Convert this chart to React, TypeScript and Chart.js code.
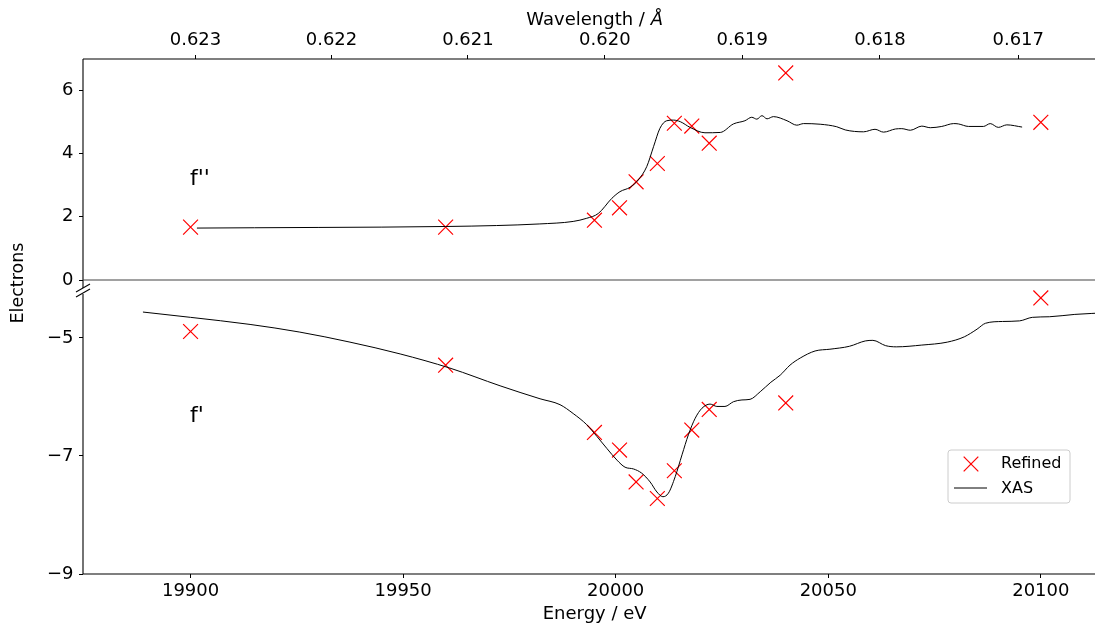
import React, { useEffect, useRef } from 'react';
import { Chart, registerables } from 'chart.js';

Chart.register(...registerables);

// ---------- data ----------
const HC = 12398.42; // eV·Å

const energyTicks = [19900, 19950, 20000, 20050, 20100];
const wavelengthTicks = [0.623, 0.622, 0.621, 0.62, 0.619, 0.618, 0.617];
const fppTicks = [0, 2, 4, 6];
const fpTicks = [-9, -7, -5];

const refinedEnergy = [19900, 19960, 19995, 20000.9, 20004.8, 20009.8, 20013.8, 20017.9, 20022, 20040, 20100];
const refinedFpp = [1.67, 1.67, 1.89, 2.28, 3.1, 3.68, 4.95, 4.86, 4.32, 6.54, 4.98];
const refinedFp = [-4.89, -5.46, -6.6, -6.9, -7.44, -7.72, -7.25, -6.56, -6.21, -6.1, -4.32];

const xasFppEnergy = [
  19901.5, 19915, 19930, 19945, 19960, 19972, 19982, 19990, 19993.2, 19995.9,
  19999.1, 20001, 20003.4, 20005.3, 20007.3, 20008.9, 20010.4, 20012, 20013.6, 20015.2,
  20017.5, 20021, 20024.6, 20027.7, 20030.4, 20032, 20033.2, 20034.4, 20035.6, 20037.1,
  20040.3, 20042.6, 20044.2, 20048.1, 20052, 20054, 20058.3, 20061, 20063, 20065.8,
  20067.3, 20069.3, 20072, 20074, 20076.7, 20079.5, 20080.6, 20083, 20086.5, 20088.1,
  20090, 20092, 20095.6,
];
const xasFpp = [
  1.64, 1.65, 1.66, 1.67, 1.69, 1.72, 1.77, 1.85, 1.95, 2.1,
  2.58, 2.79, 2.93, 3.16, 3.58, 4.21, 4.79, 5.03, 5.05, 5.0,
  4.82, 4.65, 4.66, 4.93, 5.03, 5.14, 5.08, 5.19, 5.09, 5.16,
  5.03, 4.89, 4.94, 4.92, 4.84, 4.74, 4.68, 4.76, 4.67, 4.77,
  4.78, 4.73, 4.86, 4.81, 4.85, 4.94, 4.93, 4.85, 4.85, 4.94,
  4.82, 4.9, 4.83,
];

const xasFpEnergy = [
  19888.8, 19900, 19914, 19925.7, 19937.5, 19949.3, 19961, 19972.8, 19982.2, 19986.9,
  19990, 19993.2, 19995.6, 19997.9, 20000.3, 20002.2, 20004.2, 20006.1, 20008.1, 20009.7,
  20011.1, 20012.4, 20014, 20015.6, 20017.1, 20018.7, 20020.3, 20022.2, 20023.8, 20025.7,
  20027.7, 20029.7, 20031.6, 20034, 20036.5, 20038.7, 20041, 20043.4, 20046.9, 20050.4,
  20055, 20058.7, 20060.5, 20063.5, 20066, 20072, 20078, 20082, 20085, 20087,
  20091, 20095, 20098, 20102, 20108, 20116,
];
const xasFp = [
  -4.56, -4.65, -4.77, -4.9, -5.07, -5.27, -5.51, -5.81, -6.03, -6.13,
  -6.28, -6.47, -6.67, -6.87, -7.07, -7.19, -7.22, -7.29, -7.44, -7.61,
  -7.69, -7.63, -7.35, -6.98, -6.64, -6.36, -6.19, -6.12, -6.16, -6.16,
  -6.08, -6.05, -6.04, -5.91, -5.75, -5.63, -5.46, -5.34, -5.22, -5.19,
  -5.14, -5.05, -5.04, -5.13, -5.15, -5.12, -5.07, -4.98, -4.85, -4.75,
  -4.72, -4.71, -4.65, -4.64, -4.6, -4.57,
];

// ---------- layout constants ----------
const W = 1118;
const H = 623;
const FONT = "'DejaVu Sans', sans-serif";

const pts = (xs: number[], ys: number[]) => xs.map((x, i) => ({ x, y: ys[i] }));
const fmtNum = (v: number) => (v < 0 ? '\u2212' + Math.abs(v) : String(v));

const overlay = {
  id: 'overlay',
  afterDraw(chart: any) {
    const ctx = chart.ctx as CanvasRenderingContext2D;
    const a = chart.chartArea;
    const yTop = chart.scales.yTop;
    const zeroY = yTop.getPixelForValue(0);
    ctx.save();
    const seg = (x1: number, y1: number, x2: number, y2: number) => {
      ctx.beginPath();
      ctx.moveTo(x1, y1);
      ctx.lineTo(x2, y2);
      ctx.stroke();
    };
    ctx.strokeStyle = '#000';
    ctx.lineWidth = 1.1;
    // spines
    seg(a.left, a.top, a.right, a.top);
    seg(a.left, a.bottom, a.right, a.bottom);
    seg(a.left, a.top, a.left, zeroY + 8);
    seg(a.left, zeroY + 14, a.left, a.bottom);
    // zero line
    ctx.strokeStyle = '#444';
    seg(a.left, zeroY, a.right, zeroY);
    // break marks
    ctx.strokeStyle = '#000';
    seg(a.left - 7, zeroY + 12, a.left + 7, zeroY + 4);
    seg(a.left - 7, zeroY + 17, a.left + 7, zeroY + 9);

    // panel labels
    ctx.fillStyle = '#000';
    ctx.font = `22px ${FONT}`;
    ctx.textAlign = 'left';
    ctx.textBaseline = 'alphabetic';
    ctx.fillText("f''", 190, 185);
    ctx.fillText("f'", 190, 422);

    // y label
    ctx.save();
    ctx.translate(18, 283);
    ctx.rotate(-Math.PI / 2);
    ctx.font = `17.5px ${FONT}`;
    ctx.textAlign = 'center';
    ctx.textBaseline = 'middle';
    ctx.fillText('Electrons', 0, 0);
    ctx.restore();

    // top axis title with italic Å
    ctx.font = `18px ${FONT}`;
    ctx.textBaseline = 'middle';
    ctx.textAlign = 'left';
    const t1 = 'Wavelength / ';
    const w1 = ctx.measureText(t1).width;
    ctx.font = `italic 18px ${FONT}`;
    const w2 = ctx.measureText('\u00C5').width;
    const cx = (a.left + a.right) / 2;
    const sx = cx - (w1 + w2) / 2;
    ctx.font = `18px ${FONT}`;
    ctx.fillText(t1, sx, 20);
    ctx.font = `italic 18px ${FONT}`;
    ctx.fillText('\u00C5', sx + w1, 20);

    // legend
    const lx = 948, ly = 450, lw = 122, lh = 53;
    ctx.beginPath();
    ctx.roundRect(lx, ly, lw, lh, 3);
    ctx.fillStyle = 'rgba(255,255,255,0.8)';
    ctx.fill();
    ctx.strokeStyle = '#cccccc';
    ctx.lineWidth = 1;
    ctx.stroke();
    ctx.strokeStyle = '#ff0000';
    ctx.lineWidth = 1.2;
    const cxm = 971, cym = 464, r = 7.3;
    seg(cxm - r, cym - r, cxm + r, cym + r);
    seg(cxm - r, cym + r, cxm + r, cym - r);
    ctx.strokeStyle = '#000';
    ctx.lineWidth = 1;
    seg(954, 488, 987, 488);
    ctx.fillStyle = '#000';
    ctx.font = `16px ${FONT}`;
    ctx.textBaseline = 'middle';
    ctx.fillText('Refined', 1001, 464);
    ctx.fillText('XAS', 1001, 489);
    ctx.restore();
  },
};

export default function App() {
  const ref = useRef<HTMLCanvasElement>(null);
  useEffect(() => {
    if (!ref.current) return;
    const tickFont = { family: FONT, size: 18 };
    const grid = {
      display: true,
      drawOnChartArea: false,
      drawTicks: true,
      tickLength: 4,
      color: '#000',
      lineWidth: 1,
    };
    const fitX = (h: number) => (s: any) => {
      s.height = h;
    };
    const fitY = (s: any) => {
      s.width = 83;
    };
    const chart = new Chart(ref.current, {
      type: 'line',
      data: {
        datasets: [
          {
            label: 'XAS fpp',
            data: pts(xasFppEnergy, xasFpp),
            xAxisID: 'x',
            yAxisID: 'yTop',
            borderColor: '#000',
            borderWidth: 1,
            pointRadius: 0,
            cubicInterpolationMode: 'monotone',
            fill: false,
          },
          {
            label: 'XAS fp',
            data: pts(xasFpEnergy, xasFp),
            xAxisID: 'x',
            yAxisID: 'yBot',
            borderColor: '#000',
            borderWidth: 1,
            pointRadius: 0,
            cubicInterpolationMode: 'monotone',
            fill: false,
          },
          {
            label: 'Refined fpp',
            data: pts(refinedEnergy, refinedFpp),
            xAxisID: 'x',
            yAxisID: 'yTop',
            showLine: false,
            pointStyle: 'crossRot',
            pointRadius: 10.5,
            pointBorderWidth: 1.2,
            pointBorderColor: '#ff0000',
            borderColor: '#ff0000',
          },
          {
            label: 'Refined fp',
            data: pts(refinedEnergy, refinedFp),
            xAxisID: 'x',
            yAxisID: 'yBot',
            showLine: false,
            pointStyle: 'crossRot',
            pointRadius: 10.5,
            pointBorderWidth: 1.2,
            pointBorderColor: '#ff0000',
            borderColor: '#ff0000',
          },
        ],
      },
      options: {
        animation: false,
        responsive: true,
        maintainAspectRatio: false,
        devicePixelRatio: 1,
        events: [],
        layout: { padding: { left: 0, right: 0, top: 0, bottom: 0 } },
        plugins: { legend: { display: false }, tooltip: { enabled: false } },
        scales: {
          x: {
            type: 'linear',
            position: 'bottom',
            min: 19874.7,
            max: 20115.4,
            grid,
            border: { display: false },
            afterBuildTicks: (s: any) => {
              s.ticks = energyTicks.map((v) => ({ value: v }));
            },
            afterFit: fitX(49),
            ticks: {
              font: tickFont,
              color: '#000',
              padding: 3,
              autoSkip: false,
              maxRotation: 0,
              callback: (v: any) => String(v),
            },
            title: {
              display: true,
              text: 'Energy / eV',
              font: tickFont,
              color: '#000',
              padding: { top: 0, bottom: -2 },
            },
          },
          x2: {
            type: 'linear',
            position: 'top',
            min: 19874.7,
            max: 20115.4,
            grid,
            border: { display: false },
            afterBuildTicks: (s: any) => {
              s.ticks = wavelengthTicks.map((l) => ({ value: HC / l }));
            },
            afterFit: fitX(59),
            ticks: {
              font: tickFont,
              color: '#000',
              padding: 4,
              autoSkip: false,
              maxRotation: 0,
              callback: (_v: any, i: number) => wavelengthTicks[i].toFixed(3),
            },
          },
          yBot: {
            type: 'linear',
            position: 'left',
            stack: 'y',
            stackWeight: 294,
            min: -9,
            max: -4.017,
            grid,
            border: { display: false },
            afterBuildTicks: (s: any) => {
              s.ticks = fpTicks.map((v) => ({ value: v }));
            },
            afterFit: fitY,
            ticks: {
              font: tickFont,
              color: '#000',
              padding: 5.5,
              callback: (v: any) => fmtNum(v),
            },
          },
          yTop: {
            type: 'linear',
            position: 'left',
            stack: 'y',
            stackWeight: 221,
            min: 0,
            max: 6.98,
            grid,
            border: { display: false },
            afterBuildTicks: (s: any) => {
              s.ticks = fppTicks.map((v) => ({ value: v }));
            },
            afterFit: fitY,
            ticks: {
              font: tickFont,
              color: '#000',
              padding: 5.5,
              callback: (v: any) => fmtNum(v),
            },
          },
        },
      } as any,
      plugins: [overlay],
    });
    return () => chart.destroy();
  }, []);

  return (
    <div
      style={{
        position: 'fixed',
        left: 0,
        top: 0,
        width: 1095,
        height: H,
        overflow: 'hidden',
        background: '#fff',
      }}
    >
      <div style={{ position: 'relative', width: W, height: H }}>
        <canvas ref={ref} />
      </div>
    </div>
  );
}
